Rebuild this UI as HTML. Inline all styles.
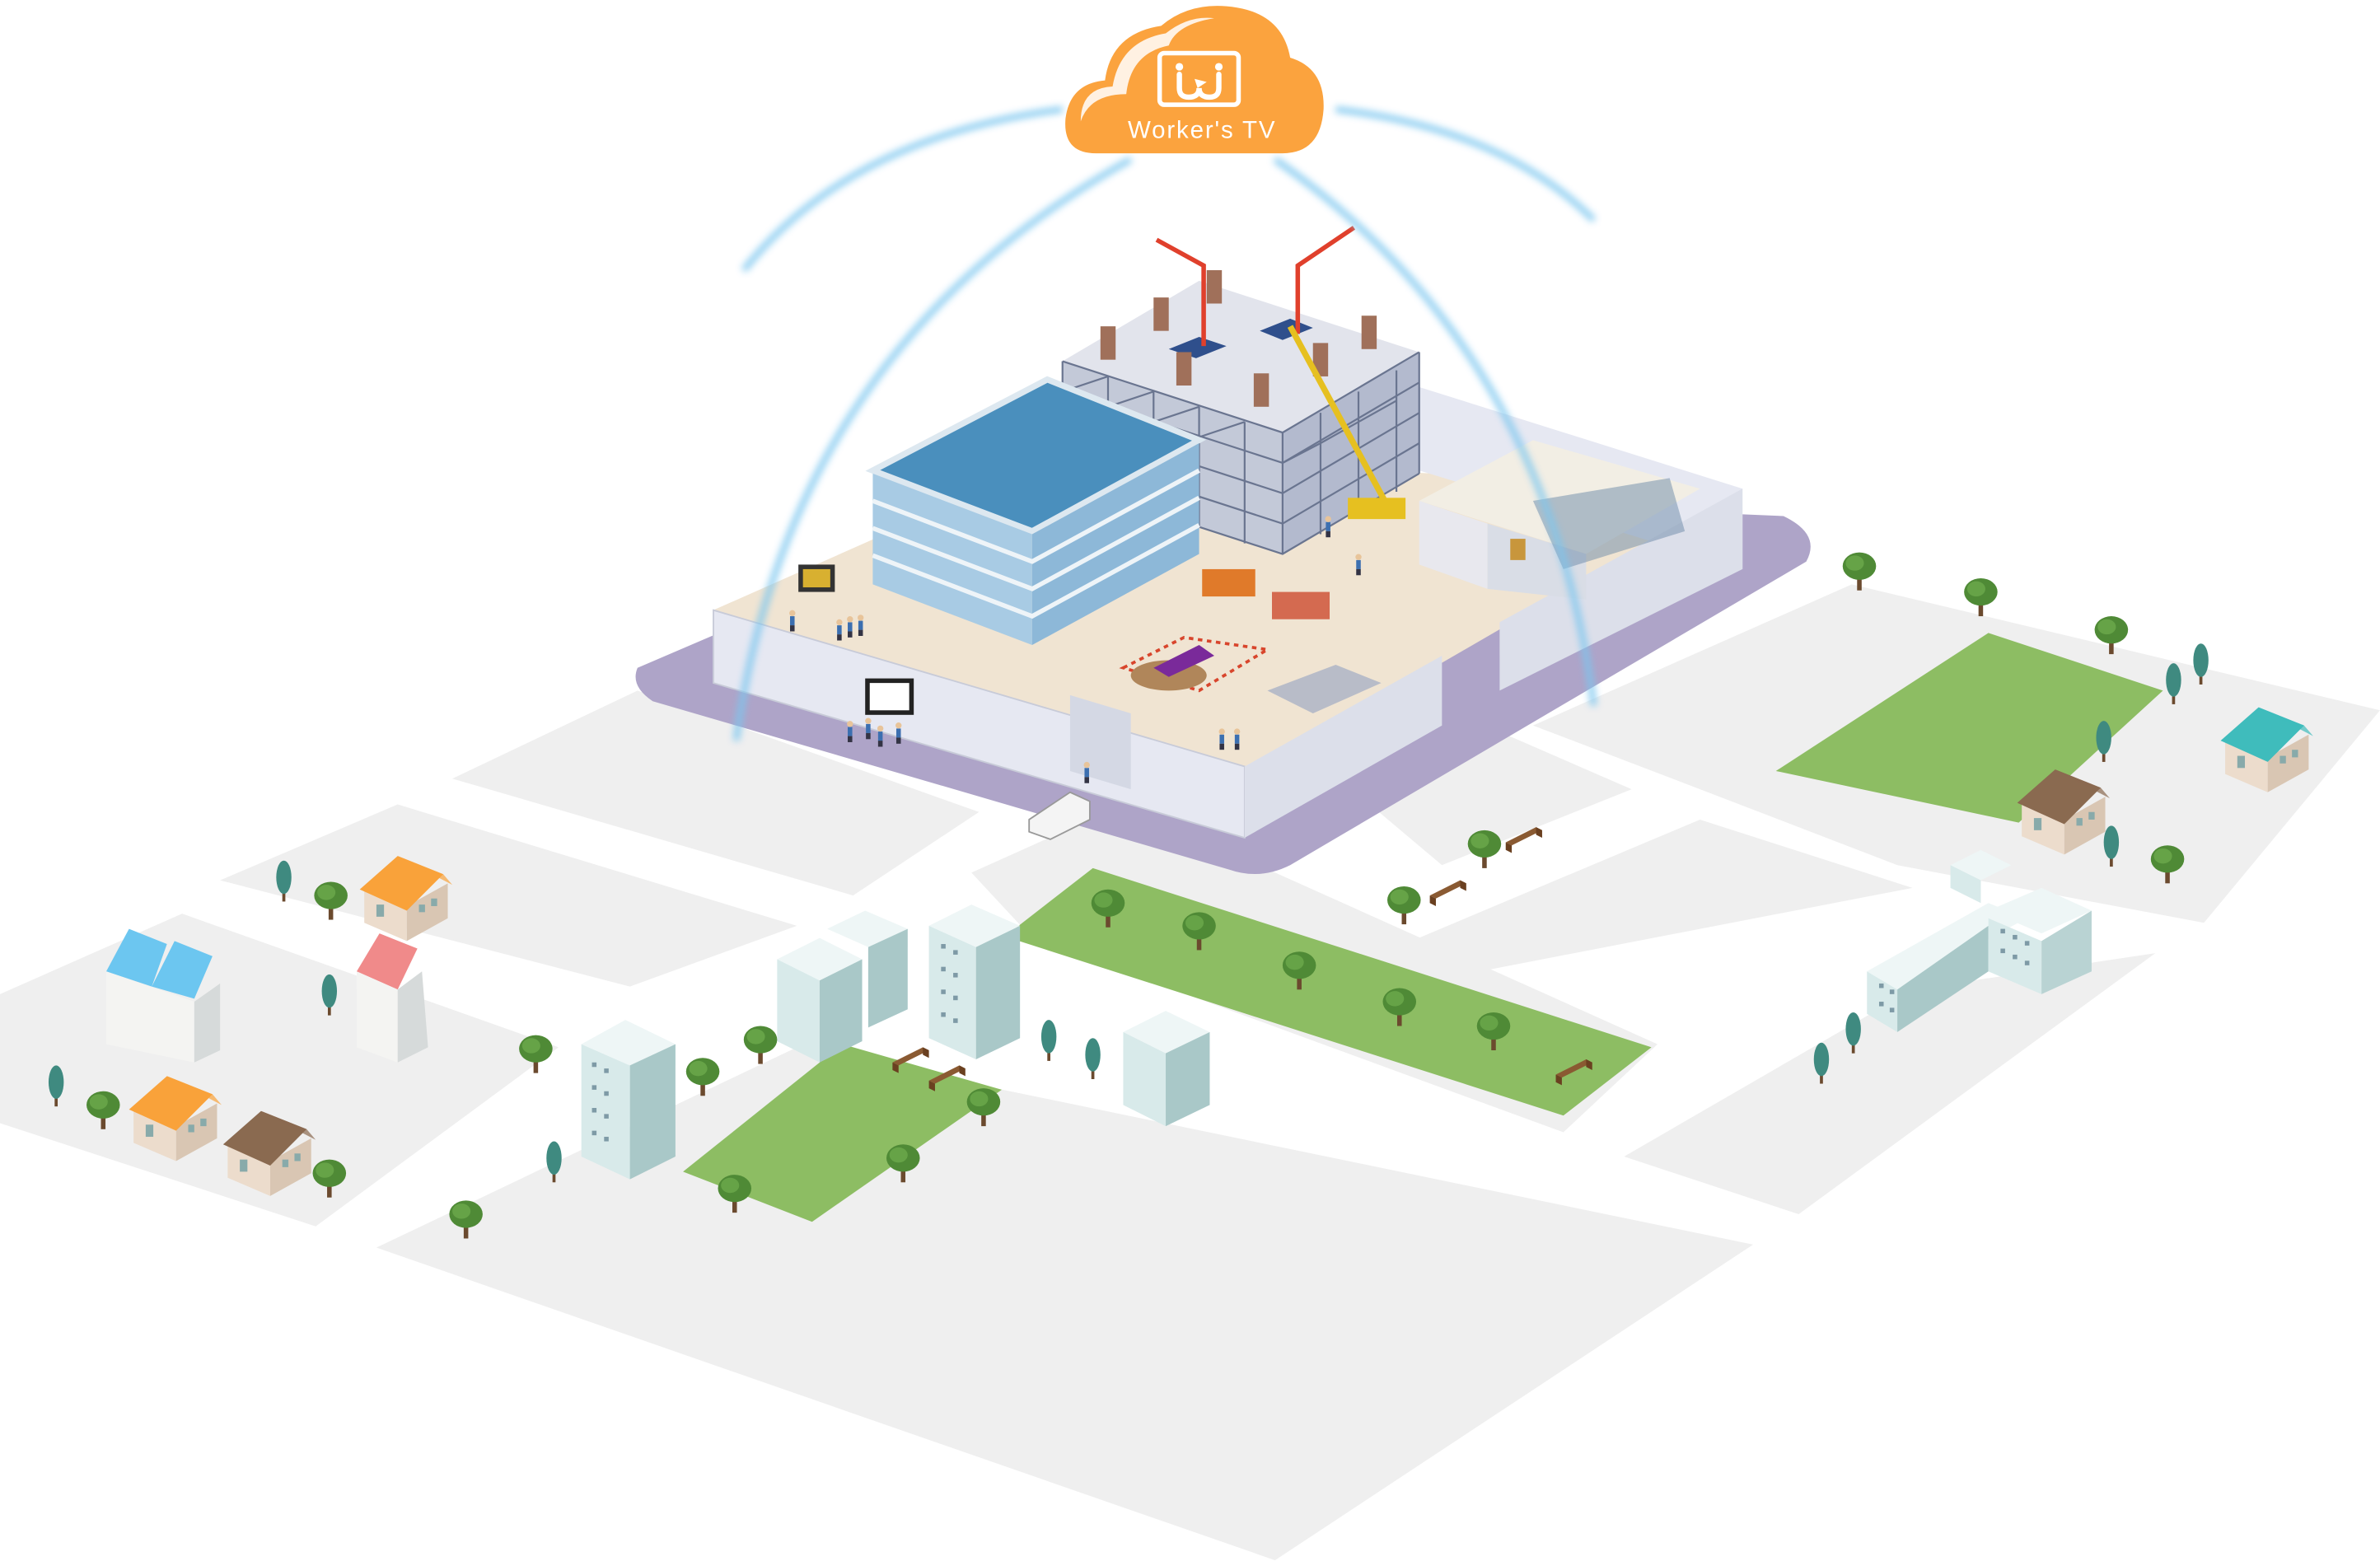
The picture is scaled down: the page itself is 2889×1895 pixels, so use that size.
<!DOCTYPE html>
<html><head><meta charset="utf-8"><style>
html,body{margin:0;padding:0;background:#fff;}
svg{display:block;}
</style></head><body>
<svg width="2889" height="1895" viewBox="0 0 1568 1028.5" preserveAspectRatio="none" xmlns="http://www.w3.org/2000/svg">
<defs>
<filter id="blur" x="-20%" y="-20%" width="140%" height="140%"><feGaussianBlur stdDeviation="2.5"/></filter>
<symbol id="t" overflow="visible"><rect x="-1.5" y="-8" width="3" height="12" fill="#6b4a2e"/><ellipse cx="0" cy="-12" rx="11" ry="9" fill="#4f8a36"/><ellipse cx="-3" cy="-14" rx="6" ry="5" fill="#66a347"/></symbol>
<symbol id="c" overflow="visible"><rect x="-1" y="-4" width="2" height="8" fill="#6b4a2e"/><ellipse cx="0" cy="-12" rx="5" ry="11" fill="#3f8a80"/></symbol>
<symbol id="h" overflow="visible"><polygon points="0,25 28,37 28,60 0,48" fill="#ecdccc"/><polygon points="28,37 55,22 55,45 28,60" fill="#d9c6b3"/><polygon points="-3,26 22,4 52,16 28,40" fill="currentColor"/><polygon points="22,4 52,16 58,23 33,10" fill="currentColor" opacity=".7"/><rect x="36" y="36" width="4" height="5" fill="#8aa"/><rect x="44" y="32" width="4" height="5" fill="#8aa"/><rect x="8" y="36" width="5" height="8" fill="#8aa"/></symbol>
<symbol id="p" overflow="visible"><rect x="-1.5" y="-6" width="3" height="6" fill="#3c6fb0"/><circle cx="0" cy="-8" r="2" fill="#e8c49a"/><rect x="-1.5" y="0" width="3" height="4" fill="#334"/></symbol>
<symbol id="b" overflow="visible"><polygon points="0,0 20,-10 24,-8 4,2" fill="#8a5a32"/><polygon points="0,0 0,5 4,7 4,2" fill="#6a4020"/><polygon points="20,-10 20,-5 24,-3 24,-8" fill="#6a4020"/></symbol>
</defs>

<g fill="#efefef">
<polygon points="248,822 525,690 1155,820 840,1028"/>
<polygon points="0,655 120,602 368,690 208,808 0,740"/>
<polygon points="145,580 262,530 525,610 415,650"/>
<polygon points="298,513 420,455 645,535 562,590"/>
<polygon points="640,575 740,530 1092,688 1030,746 680,618"/>
<polygon points="1070,762 1260,652 1420,628 1185,800"/>
<polygon points="930,620 1120,540 1260,585 975,640"/>
<polygon points="1010,478 1220,385 1568,468 1452,608 1250,570 1120,520"/>
<polygon points="855,490 960,470 1075,520 950,570"/>
</g>

<polygon points="662,617 720,572 1088,690 1030,735" fill="#8dbd63"/>
<polygon points="450,772 555,688 660,718 535,805" fill="#8dbd63"/>
<polygon points="1170,508 1310,417 1425,455 1330,542" fill="#8dbd63"/>

<path d="M420,440 L700,320 L1175,340 Q1200,352 1190,370 L850,570 Q830,580 810,573 L430,462 Q415,452 420,440 Z" fill="#aea4c8"/>
<polygon points="470,402 700,300 1148,322 820,512" fill="#f0e4d2"/>
<polygon points="935,255 1148,322 1148,375 935,310" fill="#e6e8f2"/>
<polygon points="470,402 820,505 820,552 470,450" fill="#e6e8f2" stroke="#c8cbd8" stroke-width="1"/>
<polygon points="820,505 950,432 950,478 820,552" fill="#dcdfea"/>
<polygon points="988,410 1148,322 1148,375 988,455" fill="#dcdfea"/>
<polygon points="705,458 745,470 745,520 705,508" fill="#d4d8e4"/>

<!-- scaffold -->
<polygon points="700,238 790,185 935,232 845,285" fill="#e2e4ec"/>
<polygon points="700,238 845,285 845,365 700,318" fill="#c3c9d8"/>
<polygon points="845,285 935,232 935,312 845,365" fill="#b3bace"/>
<g stroke="#6a7590" stroke-width="1.2" fill="none">
<path d="M700,238 L845,285 L935,232 M700,258 L845,305 L935,252 M700,278 L845,325 L935,272 M700,298 L845,345 L935,292 M700,318 L845,365 L935,312"/>
<path d="M700,238 V318 M730,248 V328 M760,258 V338 M790,268 V348 M820,278 V358 M845,285 V365 M870,272 V352 M895,258 V338 M920,244 V324 M935,232 V312"/>
<path d="M700,258 L730,248 M730,268 L760,258 M760,278 L790,268 M790,288 L820,278 M845,305 L870,292 M870,292 L895,278 M895,278 L920,264"/>
</g>
<polygon points="830,218 850,210 865,216 845,224" fill="#2f4f8c"/>
<polygon points="770,230 790,222 808,228 788,236" fill="#2f4f8c"/>
<g fill="#a0705a"><rect x="725" y="215" width="10" height="22"/><rect x="760" y="196" width="10" height="22"/><rect x="795" y="178" width="10" height="22"/><rect x="897" y="208" width="10" height="22"/><rect x="865" y="226" width="10" height="22"/><rect x="826" y="246" width="10" height="22"/><rect x="775" y="232" width="10" height="22"/></g>
<g stroke="#e0402c" stroke-width="3" fill="none"><path d="M793,228 V175 L762,158"/><path d="M855,220 V175 L892,150"/></g>
<line x1="850" y1="215" x2="915" y2="335" stroke="#e6c020" stroke-width="4"/>
<rect x="888" y="328" width="38" height="14" fill="#e6c020"/>

<!-- glass office building -->
<polygon points="575,310 690,250 790,290 680,350" fill="#4a8fbd" stroke="#dde8f0" stroke-width="4"/>
<polygon points="575,312 680,352 680,425 575,385" fill="#a8cbe4"/>
<polygon points="680,352 790,292 790,365 680,425" fill="#8db8d8"/>
<g stroke="#eef4f8" stroke-width="3" fill="none"><path d="M575,330 L680,370 L790,310 M575,348 L680,388 L790,328 M575,366 L680,406 L790,346"/></g>

<!-- office cutaway -->
<polygon points="935,330 1010,290 1120,322 1045,365" fill="#f2eee4"/>
<polygon points="935,330 980,345 980,388 935,372" fill="#e8e8ee"/>
<polygon points="980,345 1045,365 1045,395 980,388" fill="#d9dde6"/>
<polygon points="1010,330 1100,315 1110,350 1030,375" fill="#6c8aa8" opacity=".5"/>
<rect x="995" y="355" width="10" height="14" fill="#c8963c"/>

<polygon points="740,440 780,420 835,428 790,455" fill="none" stroke="#d8452c" stroke-width="2" stroke-dasharray="3,3"/>
<ellipse cx="770" cy="445" rx="25" ry="10" fill="#b0865a"/>
<polygon points="760,440 790,425 800,432 770,446" fill="#7a2a9a"/>
<rect x="792" y="375" width="35" height="18" fill="#e07a2a"/>
<rect x="838" y="390" width="38" height="18" fill="#d46a50"/>
<polygon points="835,455 880,438 910,450 865,470" fill="#b8bcc8"/>
<rect x="526" y="372" width="24" height="18" fill="#333"/><rect x="529" y="375" width="18" height="12" fill="#d8b030"/>
<rect x="570" y="447" width="32" height="24" fill="#222"/><rect x="573" y="450" width="26" height="18" fill="#fff"/>
<g fill="#333"><use href="#p" x="553" y="418"/><use href="#p" x="560" y="416"/><use href="#p" x="567" y="415"/><use href="#p" x="560" y="485"/><use href="#p" x="572" y="483"/><use href="#p" x="580" y="488"/><use href="#p" x="592" y="486"/><use href="#p" x="522" y="412"/><use href="#p" x="805" y="490"/><use href="#p" x="815" y="490"/><use href="#p" x="895" y="375"/><use href="#p" x="875" y="350"/><use href="#p" x="716" y="512"/></g>
<polygon points="678,540 705,522 718,528 718,540 692,553 678,548" fill="#f4f4f4" stroke="#999"/>

<g fill="none" stroke="#7cc6ef" stroke-width="4" filter="url(#blur)" opacity=".9">
<path d="M490,178 Q560,90 700,72"/>
<path d="M880,72 Q990,85 1050,145"/>
<path d="M485,488 Q520,230 745,105"/>
<path d="M840,105 Q1020,230 1050,465"/>
</g>

<path d="M722,101 Q700,101 702,78 Q705,55 728,53 Q732,22 765,17 Q785,0 815,5 Q845,10 850,38 Q873,45 872,72 Q870,101 845,101 Z" fill="#fba33e"/>
<path d="M712,80 Q712,58 733,57 Q738,27 768,22 Q783,10 800,12 Q775,16 770,30 Q745,35 742,62 Q718,62 712,80 Z" fill="#fff" opacity=".85"/>
<rect x="764" y="35" width="52" height="34" rx="3" fill="none" stroke="#fff" stroke-width="3"/>
<path d="M777,49 V58 Q777,64 783,64 Q790,64 790,58 Q790,64 797,64 Q803,64 803,58 V49" fill="none" stroke="#fff" stroke-width="3.5" stroke-linecap="round"/>
<circle cx="777" cy="44" r="2.5" fill="#fff"/><circle cx="803" cy="44" r="2.5" fill="#fff"/>
<polygon points="787,52 795,54 789,58" fill="#fff"/>
<text x="792" y="91" text-anchor="middle" font-family="Liberation Sans, sans-serif" font-size="16" fill="#fff" letter-spacing="1">Worker's TV</text>

<g>
<polygon points="383,688 412,672 445,688 415,702" fill="#eef6f6"/>
<polygon points="383,688 415,702 415,777 383,762" fill="#d8eaea"/>
<polygon points="415,702 445,688 445,762 415,777" fill="#a9c8c8"/>
<polygon points="512,632 540,618 568,632 540,646" fill="#eef6f6"/>
<polygon points="512,632 540,646 540,700 512,686" fill="#d8eaea"/>
<polygon points="540,646 568,632 568,686 540,700" fill="#a9c8c8"/>
<polygon points="545,612 570,600 598,612 572,624" fill="#eef6f6"/>
<polygon points="572,624 598,612 598,665 572,677" fill="#a9c8c8"/>
<polygon points="612,610 640,596 672,610 643,624" fill="#eef6f6"/>
<polygon points="612,610 643,624 643,698 612,684" fill="#d8eaea"/>
<polygon points="643,624 672,610 672,684 643,698" fill="#a9c8c8"/>
<polygon points="740,680 768,666 797,680 768,694" fill="#eef6f6"/>
<polygon points="740,680 768,694 768,742 740,728" fill="#d8eaea"/>
<polygon points="768,694 797,680 797,728 768,742" fill="#a9c8c8"/>
<polygon points="1230,640 1310,595 1335,605 1250,652" fill="#eef6f6"/>
<polygon points="1230,640 1250,652 1250,680 1230,668" fill="#d8eaea"/>
<polygon points="1250,652 1310,610 1310,640 1250,680" fill="#a9c8c8"/>
<polygon points="1310,600 1345,585 1378,600 1345,615" fill="#eef6f6"/>
<polygon points="1310,605 1345,620 1345,655 1310,640" fill="#d8eaea"/>
<polygon points="1345,620 1378,600 1378,640 1345,655" fill="#b9d3d3"/>
<polygon points="1285,570 1305,560 1325,570 1305,580" fill="#eef6f6"/>
<polygon points="1285,570 1305,580 1305,595 1285,585" fill="#d8eaea"/>
<polygon points="235,640 250,615 275,625 262,652" fill="#f08a8a"/>
<polygon points="235,640 262,652 262,700 235,690" fill="#f4f4f2"/>
<polygon points="262,652 278,640 282,690 262,700" fill="#d6dada"/>
<polygon points="70,640 85,612 110,622 100,650" fill="#6cc6f0"/>
<polygon points="100,650 115,620 140,630 128,658" fill="#6cc6f0"/>
<polygon points="70,640 128,660 128,700 70,688" fill="#f4f4f2"/>
<polygon points="128,660 145,648 145,692 128,700" fill="#d6dada"/>
</g>
<g fill="#7e9aa6">
<rect x="390" y="700" width="3" height="3"/><rect x="398" y="704" width="3" height="3"/><rect x="390" y="715" width="3" height="3"/><rect x="398" y="719" width="3" height="3"/><rect x="390" y="730" width="3" height="3"/><rect x="398" y="734" width="3" height="3"/><rect x="390" y="745" width="3" height="3"/><rect x="398" y="749" width="3" height="3"/>
<rect x="620" y="622" width="3" height="3"/><rect x="628" y="626" width="3" height="3"/><rect x="620" y="637" width="3" height="3"/><rect x="628" y="641" width="3" height="3"/><rect x="620" y="652" width="3" height="3"/><rect x="628" y="656" width="3" height="3"/><rect x="620" y="667" width="3" height="3"/><rect x="628" y="671" width="3" height="3"/>
<rect x="1318" y="612" width="3" height="3"/><rect x="1326" y="616" width="3" height="3"/><rect x="1334" y="620" width="3" height="3"/><rect x="1318" y="625" width="3" height="3"/><rect x="1326" y="629" width="3" height="3"/><rect x="1334" y="633" width="3" height="3"/>
<rect x="1238" y="648" width="3" height="3"/><rect x="1238" y="660" width="3" height="3"/><rect x="1245" y="652" width="3" height="3"/><rect x="1245" y="664" width="3" height="3"/>
</g>

<use href="#h" x="240" y="560" style="color:#f9a23a"/>
<use href="#h" x="88" y="705" style="color:#f9a23a"/>
<use href="#h" x="150" y="728" style="color:#8a6a50"/>
<use href="#h" x="1332" y="503" style="color:#8a6a50"/>
<use href="#h" x="1466" y="462" style="color:#3fbcbc"/>

<use href="#b" x="942" y="590"/><use href="#b" x="992" y="555"/><use href="#b" x="1025" y="708"/><use href="#b" x="588" y="700"/><use href="#b" x="612" y="712"/>

<g>
<use href="#t" x="1225" y="385"/><use href="#t" x="1305" y="402"/><use href="#t" x="1391" y="427"/><use href="#t" x="1428" y="578"/>
<use href="#t" x="978" y="568"/><use href="#t" x="925" y="605"/><use href="#t" x="730" y="607"/><use href="#t" x="790" y="622"/>
<use href="#t" x="856" y="648"/><use href="#t" x="922" y="672"/><use href="#t" x="984" y="688"/>
<use href="#t" x="501" y="697"/><use href="#t" x="463" y="718"/><use href="#t" x="648" y="738"/><use href="#t" x="595" y="775"/>
<use href="#t" x="484" y="795"/><use href="#t" x="307" y="812"/><use href="#t" x="217" y="785"/><use href="#t" x="68" y="740"/>
<use href="#t" x="218" y="602"/><use href="#t" x="353" y="703"/>
<use href="#c" x="1450" y="447"/><use href="#c" x="1432" y="460"/><use href="#c" x="1386" y="498"/><use href="#c" x="1391" y="567"/>
<use href="#c" x="1221" y="690"/><use href="#c" x="1200" y="710"/><use href="#c" x="691" y="695"/><use href="#c" x="720" y="707"/>
<use href="#c" x="365" y="775"/><use href="#c" x="217" y="665"/><use href="#c" x="187" y="590"/><use href="#c" x="37" y="725"/>
</g>
</svg>
</body></html>
